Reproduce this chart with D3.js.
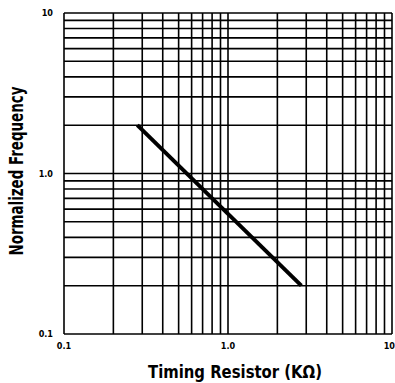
<!DOCTYPE html>
<html>
<head>
<meta charset="utf-8">
<script src="https://cdn.jsdelivr.net/npm/d3@7"></script>
<style>
  body { margin: 0; background: #fff; }
  text { font-family: 'Liberation Sans Narrow', 'DejaVu Sans Condensed', 'Liberation Sans', sans-serif; font-weight: bold; fill: #000; }
</style>
</head>
<body>
<div id="graf"></div>
<script>
// datos
const resistor = [0.28, 2.8]
const frecuencia = [2.0, 0.2]
const ticksX = [0.1, 1.0, 10]
const ticksY = [0.1, 1.0, 10]
const etiquetasX = ['0.1', '1.0', '10']
const etiquetasY = ['0.1', '1.0', '10']

const anchoTotal = 395
const altoTotal = 383

const margin = { top: 13, bottom: 49, left: 64, right: 3 }
const ancho = anchoTotal - margin.left - margin.right
const alto = altoTotal - margin.top - margin.bottom

const svg = d3.select('#graf')
  .append('svg')
  .attr('width', anchoTotal)
  .attr('height', altoTotal)

const g = svg.append('g')
  .attr('transform', `translate(${margin.left}, ${margin.top})`)

const x = d3.scaleLog().domain([0.1, 10]).range([0, ancho])
const y = d3.scaleLog().domain([0.1, 10]).range([alto, 0])

// rejilla
g.append('g')
  .selectAll('line')
  .data(x.ticks())
  .join('line')
    .attr('x1', d => x(d))
    .attr('x2', d => x(d))
    .attr('y1', 0)
    .attr('y2', alto)
    .attr('stroke', '#000')
    .attr('stroke-width', 1.6)

g.append('g')
  .selectAll('line')
  .data(y.ticks())
  .join('line')
    .attr('x1', 0)
    .attr('x2', ancho)
    .attr('y1', d => y(d))
    .attr('y2', d => y(d))
    .attr('stroke', '#000')
    .attr('stroke-width', 1.6)

// etiquetas de ejes
g.append('g')
  .selectAll('text')
  .data(ticksY)
  .join('text')
    .attr('x', -11)
    .attr('y', d => y(d))
    .attr('dy', '0.35em')
    .attr('text-anchor', 'end')
    .attr('font-size', 9)
    .text((d, i) => etiquetasY[i])

// el ultimo rotulo queda pegado al borde derecho
g.append('g')
  .selectAll('text')
  .data(ticksX)
  .join('text')
    .attr('x', (d, i) => i === ticksX.length - 1 ? x(d) + 3 : x(d))
    .attr('y', alto + 15)
    .attr('text-anchor', (d, i) => i === ticksX.length - 1 ? 'end' : 'middle')
    .attr('font-size', 9)
    .text((d, i) => etiquetasX[i])

// curva
const linea = d3.line()
  .x(d => x(d[0]))
  .y(d => y(d[1]))

g.append('path')
  .datum(d3.zip(resistor, frecuencia))
  .attr('d', linea)
  .attr('fill', 'none')
  .attr('stroke', '#000')
  .attr('stroke-width', 4)

// titulos
svg.append('text')
  .attr('x', 235)
  .attr('y', 378)
  .attr('text-anchor', 'middle')
  .attr('font-size', 18)
  .attr('textLength', 174)
  .attr('lengthAdjust', 'spacingAndGlyphs')
  .text('Timing Resistor  (KΩ)')

svg.append('text')
  .attr('transform', 'translate(23, 171) rotate(-90)')
  .attr('text-anchor', 'middle')
  .attr('font-size', 19)
  .attr('textLength', 169)
  .attr('lengthAdjust', 'spacingAndGlyphs')
  .text('Normalized Frequency')
</script>
</body>
</html>
